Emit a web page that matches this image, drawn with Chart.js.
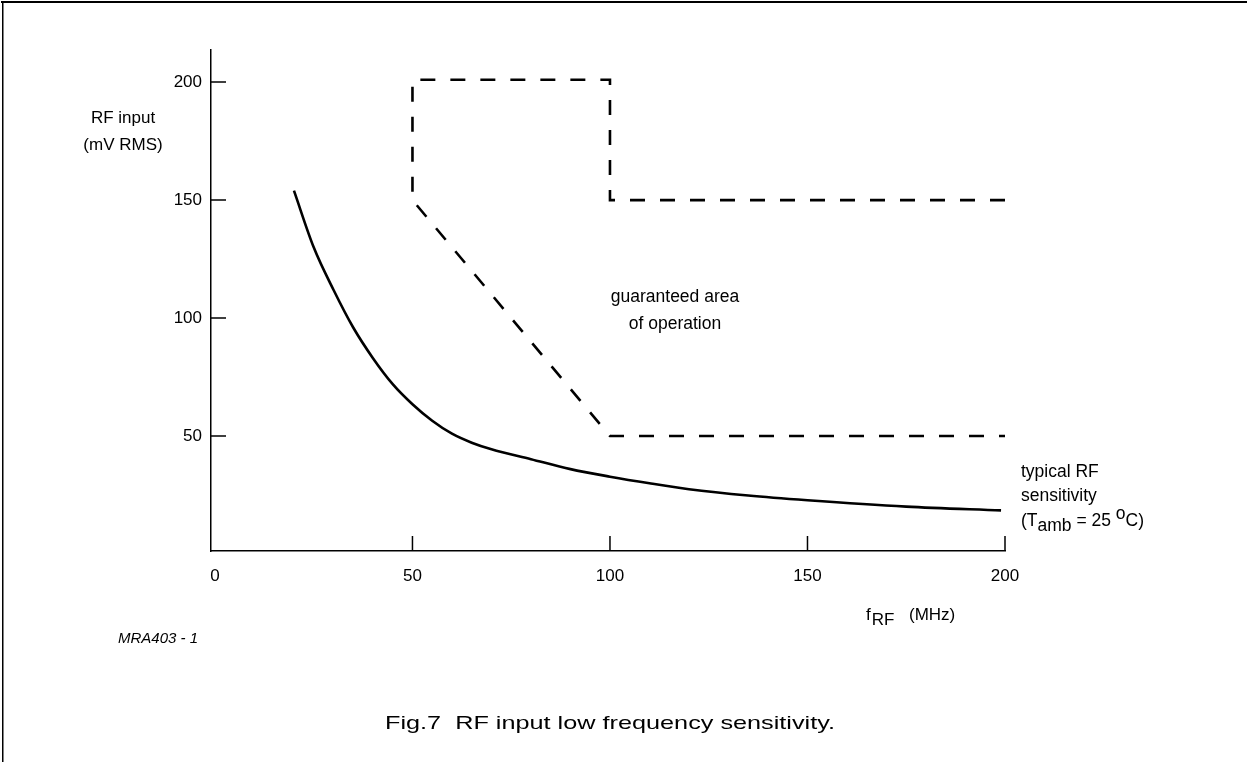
<!DOCTYPE html>
<html>
<head>
<meta charset="utf-8">
<script src="https://cdn.jsdelivr.net/npm/chart.js@4.4.0/dist/chart.umd.min.js"></script>
<style>
html, body { margin: 0; padding: 0; background: #fff; }
#wrap { position: relative; width: 1247px; height: 762px; }
</style>
</head>
<body>
<div id="wrap"><canvas id="chart"></canvas></div>
<script>
// typical RF sensitivity
const freqMHz = [20, 25, 30, 35, 40, 45, 50, 55, 60, 65, 70, 80, 90, 100, 110, 120, 135, 150, 175, 199];
const rfInput = [154, 130, 112, 96, 83, 72, 63.5, 56.5, 51, 47.2, 44.4, 40.2, 36, 32.8, 30, 27.5, 24.8, 22.8, 20.1, 18.5];

// guaranteed area of operation boundary (dashed)
const areaFreq = [200, 100, 100, 50, 50, 100, 200];
const areaRf = [150, 150, 201, 201, 150, 50, 50];

const xTicks = [0, 50, 100, 150, 200];
const yTicks = [50, 100, 150, 200];

const FONT = '"Liberation Sans", Arial, sans-serif';

function txt(ctx, s, x, y, size, align, style) {
    ctx.font = (style || '') + ' ' + size + 'px ' + FONT;
    ctx.textAlign = align || 'left';
    ctx.fillText(s, x, y);
    return ctx.measureText(s).width;
}

// inward ticks, frame and the annotation texts
const decor = {
    id: 'decor',
    afterDraw(chart) {
        const { ctx, scales: { x, y }, chartArea: a } = chart;
        ctx.save();
        ctx.strokeStyle = '#000';
        ctx.lineWidth = 1.5;
        ctx.beginPath();
        xTicks.filter(v => v > 0).forEach(v => {
            const px = x.getPixelForValue(v);
            ctx.moveTo(px, a.bottom);
            ctx.lineTo(px, a.bottom - 15);
        });
        yTicks.forEach(v => {
            const py = y.getPixelForValue(v);
            ctx.moveTo(a.left, py);
            ctx.lineTo(a.left + 15, py);
        });
        ctx.stroke();

        ctx.fillStyle = '#000';
        ctx.fillRect(1, 1, chart.width, 2);
        ctx.fillRect(2, 1, 1.5, chart.height);

        ctx.textBaseline = 'alphabetic';
        // y axis title
        txt(ctx, 'RF input', 123, 123, 17, 'center');
        txt(ctx, '(mV RMS)', 123, 150, 17, 'center');

        // x axis title  f_RF (MHz)
        let cx = 866;
        cx += txt(ctx, 'f', cx, 620, 17);
        cx += 1;
        cx += txt(ctx, 'RF', cx, 625, 17);
        txt(ctx, '(MHz)', 909, 620, 17);

        // area label
        txt(ctx, 'guaranteed area', 675, 302, 17.5, 'center');
        txt(ctx, 'of operation', 675, 329, 17.5, 'center');

        // curve label
        txt(ctx, 'typical RF', 1021, 477, 17.5);
        txt(ctx, 'sensitivity', 1021, 501, 17.5);
        cx = 1021;
        cx += txt(ctx, '(T', cx, 526, 17.5);
        cx += txt(ctx, 'amb', cx, 531, 17.5);
        cx += txt(ctx, ' = 25 ', cx, 526, 17.5);
        cx += txt(ctx, 'o', cx, 519, 17.5);
        txt(ctx, 'C)', cx, 526, 17.5);

        txt(ctx, 'MRA403 - 1', 118, 643, 15, 'left', 'italic');

        // caption, stretched to the width it has in the figure
        const cap = 'Fig.7  RF input low frequency sensitivity.';
        ctx.font = '19px ' + FONT;
        const w = ctx.measureText(cap).width;
        ctx.translate(610, 729);
        ctx.scale(450 / w, 1);
        ctx.textAlign = 'center';
        ctx.fillText(cap, 0, 0);
        ctx.restore();
    }
};

const tickFont = { family: FONT, size: 17 };

new Chart(document.getElementById('chart'), {
    type: 'line',
    data: {
        datasets: [{
            data: freqMHz.map((f, i) => ({ x: f, y: rfInput[i] })),
            borderColor: '#000',
            borderWidth: 2.6,
            pointRadius: 0,
            cubicInterpolationMode: 'monotone',
            fill: false
        }, {
            data: areaFreq.map((f, i) => ({ x: f, y: areaRf[i] })),
            borderColor: '#000',
            borderWidth: 2.6,
            borderDash: [15, 15],
            pointRadius: 0,
            tension: 0,
            fill: false
        }]
    },
    options: {
        responsive: true,
        maintainAspectRatio: false,
        animation: false,
        layout: { padding: { left: 0, top: 50, right: 242, bottom: 171 } },
        plugins: { legend: { display: false }, tooltip: { enabled: false } },
        scales: {
            x: {
                type: 'linear',
                min: -1,
                max: 200,
                afterBuildTicks: s => { s.ticks = xTicks.map(v => ({ value: v })); },
                afterFit: s => { s.height = 40; },
                grid: { drawOnChartArea: false, drawTicks: false },
                border: { color: '#000', width: 1.5 },
                ticks: { padding: 15, color: '#000', font: tickFont, maxRotation: 0, autoSkip: false }
            },
            y: {
                min: 1.3,
                max: 213.6,
                afterBuildTicks: s => { s.ticks = yTicks.map(v => ({ value: v })); },
                afterFit: s => { s.width = 211; },
                grid: { drawOnChartArea: false, drawTicks: false },
                border: { color: '#000', width: 1.5 },
                ticks: { padding: 9, color: '#000', font: tickFont }
            }
        }
    },
    plugins: [decor]
});
</script>
</body>
</html>
